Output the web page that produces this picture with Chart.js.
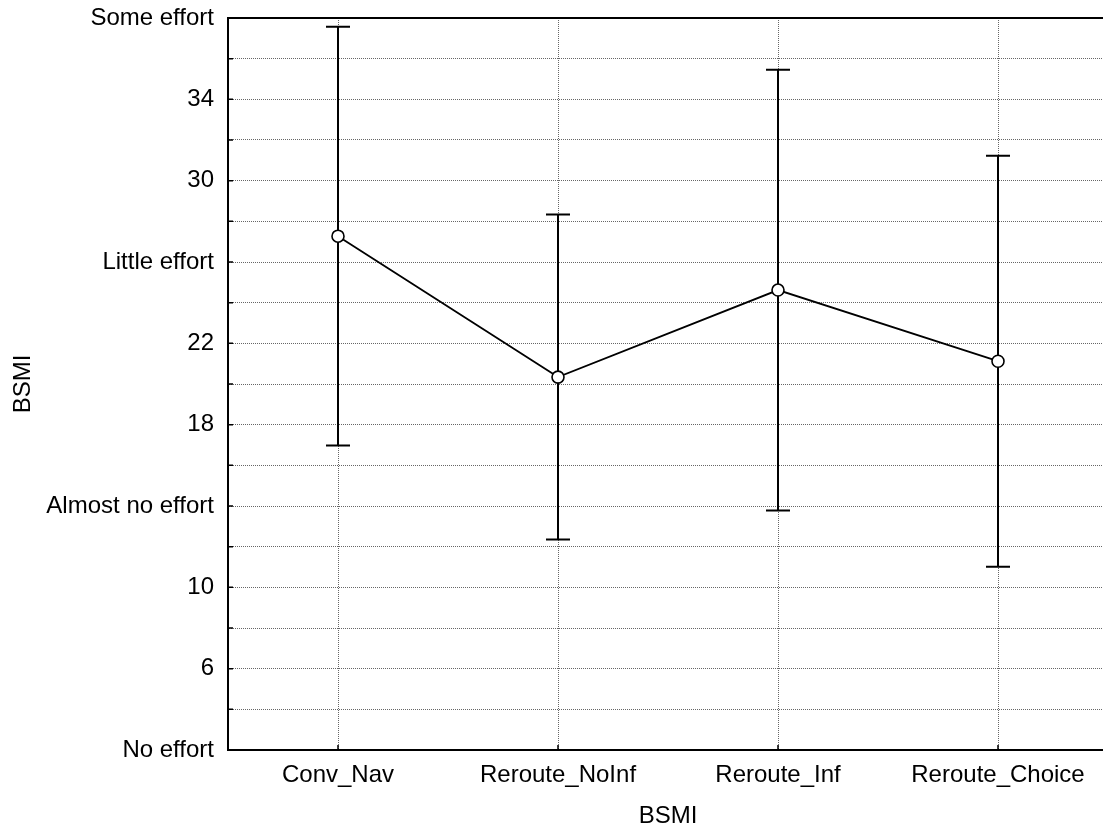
<!DOCTYPE html>
<html>
<head>
<meta charset="utf-8">
<script src="https://cdn.jsdelivr.net/npm/chart.js@4.4.1/dist/chart.umd.min.js"></script>
<style>
  html, body { margin: 0; padding: 0; background: #fff; overflow: hidden; }
  #wrap { width: 1116px; height: 828px; }
</style>
</head>
<body>
<div id="wrap"><canvas id="chart" width="1116" height="828"></canvas></div>
<script>
// Category means with upper / lower error-bar ends
const CATEGORIES = ['Conv_Nav', 'Reroute_NoInf', 'Reroute_Inf', 'Reroute_Choice'];
const MEANS = [27.27, 20.34, 24.62, 21.12];
const UPPER = [37.57, 28.33, 35.46, 31.23];
const LOWER = [16.97, 12.35, 13.78, 11.01];

// y-axis ticks: grid every 2, labels every 4, some replaced by words
const Y_TICK_VALUES = [2, 6, 10, 14, 18, 22, 26, 30, 34, 38];
const Y_TICK_LABELS = ['No effort', '6', '10', 'Almost no effort', '18', '22', 'Little effort', '30', '34', 'Some effort'];

const AXIS_TITLE = 'BSMI';

Chart.defaults.font.family = "Arial, 'Liberation Sans', sans-serif";
Chart.defaults.font.size = 24;
Chart.defaults.color = '#000';

const GRID_COLOR = '#666';

// error bars drawn under the points, using the chart's own scales
const errorBars = {
    id: 'errorBars',
    beforeDatasetsDraw(chart) {
        const { ctx, scales: { x, y } } = chart;
        ctx.save();
        ctx.strokeStyle = '#000';
        ctx.lineWidth = 2;
        CATEGORIES.forEach((c, i) => {
            const px = x.getPixelForValue(i);
            const top = y.getPixelForValue(UPPER[i]);
            const bot = y.getPixelForValue(LOWER[i]);
            ctx.beginPath();
            ctx.moveTo(px, top); ctx.lineTo(px, bot);
            ctx.moveTo(px - 12, top); ctx.lineTo(px + 12, top);
            ctx.moveTo(px - 12, bot); ctx.lineTo(px + 12, bot);
            ctx.stroke();
        });
        ctx.restore();
    },
};

// top frame line plus the short inward tick marks
const frame = {
    id: 'frame',
    afterDraw(chart) {
        const { ctx, chartArea: a, scales: { x, y } } = chart;
        ctx.save();
        ctx.strokeStyle = '#000';
        ctx.lineWidth = 2;
        ctx.beginPath();
        ctx.moveTo(a.left - 1, a.top);
        ctx.lineTo(a.right, a.top);
        ctx.stroke();
        ctx.lineWidth = 1.5;
        ctx.beginPath();
        y.ticks.forEach((t, i) => {
            const py = y.getPixelForTick(i);
            ctx.moveTo(a.left, py); ctx.lineTo(a.left + 5, py);
        });
        x.ticks.forEach((t, i) => {
            const px = x.getPixelForTick(i);
            ctx.moveTo(px, a.bottom); ctx.lineTo(px, a.bottom - 5);
        });
        ctx.stroke();
        ctx.restore();
    },
};

new Chart(document.getElementById('chart'), {
    type: 'line',
    data: {
        labels: CATEGORIES,
        datasets: [{
            data: MEANS,
            borderColor: '#000',
            borderWidth: 1.8,
            pointRadius: 6,
            pointBackgroundColor: '#fff',
            pointBorderColor: '#000',
            pointBorderWidth: 1.6,
            tension: 0,
            fill: false,
        }],
    },
    options: {
        responsive: false,
        animation: false,
        layout: { padding: { top: 18, right: 8, bottom: 0, left: 0 } },
        plugins: { legend: { display: false }, tooltip: { enabled: false } },
        scales: {
            x: {
                offset: true,
                grid: { color: GRID_COLOR, lineWidth: 1, drawTicks: false, offset: false },
                border: { display: true, color: '#000', width: 2, dash: [1, 1] },
                ticks: { padding: 13, font: { lineHeight: 1 } },
                title: { display: true, text: AXIS_TITLE, font: { lineHeight: 1 }, padding: { top: 0, bottom: 0 } },
                afterFit: s => { s.height = 78; s.paddingLeft = 0; s.paddingRight = 0; },
            },
            y: {
                min: 2,
                max: 38,
                grid: { color: GRID_COLOR, lineWidth: 1, drawTicks: false },
                border: { display: true, color: '#000', width: 2, dash: [1, 1] },
                ticks: {
                    stepSize: 2,
                    padding: 14,
                    font: { lineHeight: 1 },
                    callback: v => {
                        const i = Y_TICK_VALUES.indexOf(v);
                        return i >= 0 ? Y_TICK_LABELS[i] : '';
                    },
                },
                title: { display: true, text: AXIS_TITLE, font: { lineHeight: 1 }, padding: { top: 11, bottom: 0 } },
                afterFit: s => { s.width = 228; s.paddingTop = 0; s.paddingBottom = 0; },
            },
        },
    },
    plugins: [errorBars, frame],
});
</script>
</body>
</html>
